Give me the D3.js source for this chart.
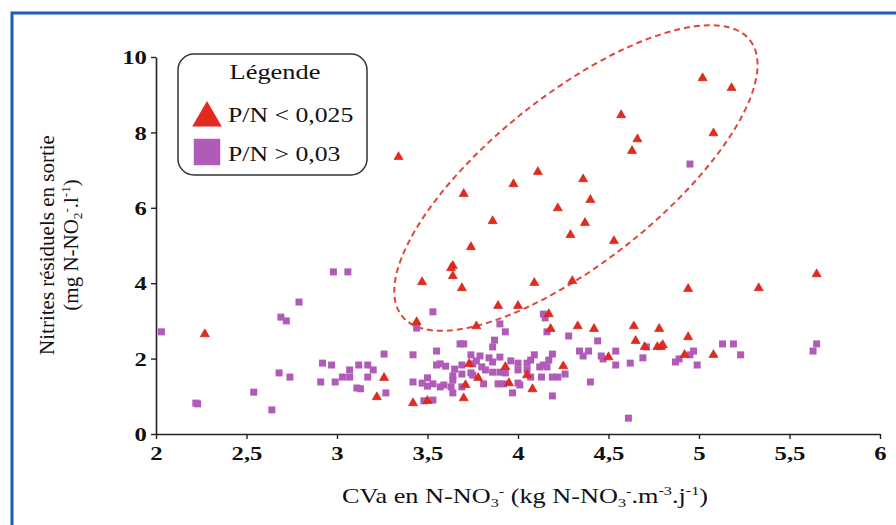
<!DOCTYPE html>
<html>
<head>
<meta charset="utf-8">
<script src="https://cdn.jsdelivr.net/npm/d3@7"></script>
<style>
  html, body { margin: 0; padding: 0; background: #ffffff; }
  svg { display: block; }
</style>
</head>
<body>
<div id="chart"></div>
<script>
// P/N < 0,025 (triangles) : [CVa, nitrites]
var triangles = [
  [5.02, 9.44], [5.18, 9.18], [4.57, 8.46], [4.66, 7.82], [4.63, 7.51], [5.08, 7.98],
  [4.11, 6.95], [3.975, 6.63], [3.70, 6.37], [4.36, 6.76], [4.40, 6.21], [4.22, 5.99],
  [3.86, 5.65], [4.37, 5.60], [4.29, 5.28], [4.53, 5.12], [3.74, 4.96], [3.34, 7.35],
  [3.64, 4.46], [3.63, 4.40], [3.64, 4.19], [3.47, 4.03], [3.69, 3.87], [4.09, 4.01],
  [4.30, 4.06], [3.89, 3.40], [4.00, 3.40], [4.17, 3.18], [3.44, 2.97], [3.77, 2.86],
  [4.18, 2.79], [4.33, 2.86], [4.42, 2.79], [4.64, 2.86], [4.78, 2.79], [4.65, 2.47],
  [4.70, 2.31], [4.77, 2.31], [4.50, 2.04], [4.25, 1.80], [3.73, 1.86], [3.93, 1.78],
  [4.05, 1.56], [3.78, 1.49], [3.71, 1.30], [3.95, 1.35], [4.08, 1.19], [3.70, 0.95],
  [3.42, 0.82], [3.50, 0.88], [2.27, 2.65], [3.26, 1.49], [3.22, 0.98], [4.79, 2.31],
  [4.80, 2.36], [4.94, 2.57], [4.92, 2.10], [5.08, 2.10], [4.94, 3.85], [5.33, 3.87],
  [5.65, 4.24]
];

// P/N > 0,03 (carrés)
var squares = [
  [2.03, 2.71], [2.69, 3.10], [2.72, 3.00], [2.79, 3.50], [2.98, 4.30], [3.06, 4.30],
  [2.92, 1.88], [2.97, 1.83], [2.68, 1.62], [2.74, 1.51], [3.07, 1.70], [3.12, 1.83],
  [3.17, 1.83], [3.20, 1.70], [3.26, 2.12], [2.91, 1.38], [2.99, 1.38], [3.03, 1.51],
  [3.07, 1.51], [3.17, 1.51], [3.11, 1.22], [3.13, 1.20], [3.27, 1.09], [2.54, 1.11],
  [2.23, 0.80], [2.22, 0.82], [2.64, 0.64], [3.42, 2.10], [3.42, 1.38], [3.53, 3.24],
  [4.14, 3.18], [4.15, 3.08], [3.44, 2.81], [3.90, 2.92], [3.93, 2.71], [4.16, 2.71],
  [4.28, 2.60], [4.44, 2.47], [3.87, 2.49], [3.86, 2.31], [3.68, 2.39], [3.70, 2.39],
  [3.55, 2.20], [4.34, 2.20], [4.39, 2.20], [4.36, 2.07], [4.54, 2.20], [4.46, 2.07],
  [4.47, 1.99], [4.54, 1.83], [4.62, 1.88], [4.69, 2.02], [4.71, 2.31], [3.74, 2.10],
  [3.79, 2.07], [3.77, 1.94], [3.84, 2.02], [3.86, 1.91], [3.90, 2.04], [3.96, 1.94],
  [4.00, 1.88], [4.05, 1.88], [4.09, 2.10], [4.07, 1.96], [4.19, 2.12], [4.17, 1.96],
  [4.14, 1.83], [3.55, 1.83], [3.57, 1.86], [3.60, 1.80], [3.65, 1.72], [3.69, 1.83],
  [3.75, 1.86], [3.80, 1.78], [3.82, 1.70], [3.86, 1.64], [3.90, 1.64], [3.93, 1.62],
  [4.00, 1.70], [4.05, 1.70], [4.12, 1.78], [4.16, 1.78], [3.64, 1.54], [3.69, 1.59],
  [3.74, 1.62], [3.64, 1.43], [3.50, 1.49], [3.47, 1.35], [3.50, 1.27], [3.53, 1.33],
  [3.57, 1.25], [3.59, 1.30], [3.63, 1.25], [3.64, 1.09], [3.69, 1.25], [3.75, 1.56],
  [3.81, 1.33], [3.89, 1.33], [3.92, 1.33], [4.00, 1.35], [4.01, 1.30], [4.07, 1.51],
  [4.13, 1.51], [4.19, 1.51], [4.22, 1.51], [4.26, 1.59], [3.97, 1.09], [4.19, 1.01],
  [4.40, 1.38], [3.48, 0.88], [3.53, 0.90], [4.61, 0.42], [4.95, 7.16], [4.87, 1.91],
  [4.89, 1.99], [4.97, 2.20], [4.95, 2.10], [4.99, 1.83], [5.13, 2.39], [5.19, 2.39],
  [5.23, 2.10], [5.65, 2.39], [5.63, 2.20]
];

var xTicks = [2, 2.5, 3, 3.5, 4, 4.5, 5, 5.5, 6];
var yTicks = [0, 2, 4, 6, 8, 10];
var legendLabels = ["P/N < 0,025", "P/N > 0,03"];
// centre de l'ellipse (zone P/N < 0,025)
var ellipseCentre = [4.32, 6.79];

var width = 896, height = 525;
var red = "#e4291d", purple = "#b15bb8";
var serif = "'Liberation Serif', 'DejaVu Serif', serif";

var svg = d3.select("#chart").append("svg")
  .attr("width", width).attr("height", height);

svg.append("rect").attr("width", width).attr("height", height).attr("fill", "#ffffff");

// blue frame
svg.append("path")
  .attr("d", "M12,525 L12,13 L896,13")
  .attr("fill", "none").attr("stroke", "#1c5fb0").attr("stroke-width", 3);

var x = d3.scaleLinear().domain([2, 6]).range([156, 880]);
var y = d3.scaleLinear().domain([0, 10]).range([434, 57]);

var fmt = function(d) { return String(d).replace(".", ","); };

var xAxis = svg.append("g")
  .attr("transform", "translate(0," + y(0) + ")")
  .call(d3.axisBottom(x).tickValues(xTicks).tickFormat(fmt).tickSize(5).tickSizeOuter(0));
var yAxis = svg.append("g")
  .attr("transform", "translate(" + x(2) + ",0)")
  .call(d3.axisLeft(y).tickValues(yTicks).tickFormat(fmt).tickSize(5).tickSizeOuter(0));

[xAxis, yAxis].forEach(function(g) {
  g.attr("font-family", null);
  g.select(".domain").attr("stroke", "#222").attr("stroke-width", 1.6);
  g.selectAll(".tick line").attr("stroke", "#222").attr("stroke-width", 1.4);
  g.selectAll(".tick text")
    .attr("fill", "#111")
    .style("font-family", serif)
    .style("font-size", "19px")
    .style("font-weight", "bold");
});
// the source picture is stretched sideways: widen the glyphs
xAxis.selectAll(".tick text").attr("dy", "0.95em").attr("transform", "scale(1.3,1)");
yAxis.selectAll(".tick text").attr("x", -7).attr("dy", "0.35em").attr("transform", "scale(1.3,1)");

// dashed ellipse
svg.append("ellipse")
  .attr("cx", 0).attr("cy", 0)
  .attr("rx", 222).attr("ry", 84)
  .attr("transform", "translate(" + x(ellipseCentre[0]) + "," + y(ellipseCentre[1]) + ") rotate(-38.4)")
  .attr("fill", "none")
  .attr("stroke", "#e0463c")
  .attr("stroke-width", 2)
  .attr("stroke-dasharray", "6,4");

// squares
svg.append("g").selectAll("path")
  .data(squares).enter().append("path")
  .attr("d", d3.symbol(d3.symbolSquare, 49))
  .attr("transform", function(d) { return "translate(" + x(d[0]) + "," + y(d[1]) + ")"; })
  .attr("fill", purple);

// triangles
svg.append("g").selectAll("path")
  .data(triangles).enter().append("path")
  .attr("d", d3.symbol(d3.symbolTriangle, 36))
  .attr("transform", function(d) { return "translate(" + x(d[0]) + "," + y(d[1]) + ")"; })
  .attr("fill", red)
  .attr("stroke", "#c81e14").attr("stroke-width", 0.6);

// legend
var legend = svg.append("g");
legend.append("rect")
  .attr("x", 178).attr("y", 54).attr("width", 189).attr("height", 121)
  .attr("rx", 16).attr("ry", 16)
  .attr("fill", "#ffffff").attr("stroke", "#333").attr("stroke-width", 1.5);
legend.append("text")
  .attr("transform", "translate(275,79) scale(1.2,1)")
  .attr("text-anchor", "middle")
  .style("font-family", serif).style("font-size", "22px").attr("fill", "#111")
  .text("Légende");
legend.append("path")
  .attr("d", d3.symbol(d3.symbolTriangle, 380))
  .attr("transform", "translate(207,118)")
  .attr("fill", red);
legend.append("path")
  .attr("d", d3.symbol(d3.symbolSquare, 700))
  .attr("transform", "translate(207,152)")
  .attr("fill", purple);
legend.selectAll("text.item")
  .data(legendLabels).enter().append("text")
  .attr("class", "item")
  .attr("transform", function(d, i) { return "translate(228," + (122 + i * 39) + ") scale(1.17,1)"; })
  .style("font-family", serif).style("font-size", "22px").attr("fill", "#111")
  .text(function(d) { return d; });

// axis titles
function addParts(t, parts) {
  parts.forEach(function(p) {
    var s = t.append("tspan").text(p[0]);
    if (p[1] === "sub") s.attr("dy", 4).style("font-size", "13px");
    if (p[1] === "sup") s.attr("dy", -11).style("font-size", "13px");
    if (p[1] === "sup2") s.attr("dy", -8).style("font-size", "13px");
    if (p[2]) s.attr("dy", p[2]);
  });
}
var xt = svg.append("text")
  .attr("transform", "translate(525,503) scale(1.25,1)")
  .attr("text-anchor", "middle")
  .style("font-family", serif).style("font-size", "21px").attr("fill", "#111");
addParts(xt, [
  ["CVa en N-NO"], ["3", "sub"], ["-", "sup"], [" (kg N-NO", null, 7],
  ["3", "sub"], ["-", "sup"], [".m", null, 7], ["-3", "sup2"], [".j", null, 8],
  ["-1", "sup2"], [")", null, 8]
]);

var yt = svg.append("g").attr("transform", "translate(54,245) rotate(-90)");
yt.append("text")
  .attr("text-anchor", "middle")
  .style("font-family", serif).style("font-size", "21px").attr("fill", "#111")
  .text("Nitrites résiduels en sortie");
var yt2 = yt.append("text")
  .attr("y", 24)
  .attr("text-anchor", "middle")
  .style("font-family", serif).style("font-size", "21px").attr("fill", "#111");
addParts(yt2, [
  ["(mg N-NO"], ["2", "sub"], ["-", "sup"], [".l", null, 7], ["-1", "sup2"], [")", null, 8]
]);
</script>
</body>
</html>
